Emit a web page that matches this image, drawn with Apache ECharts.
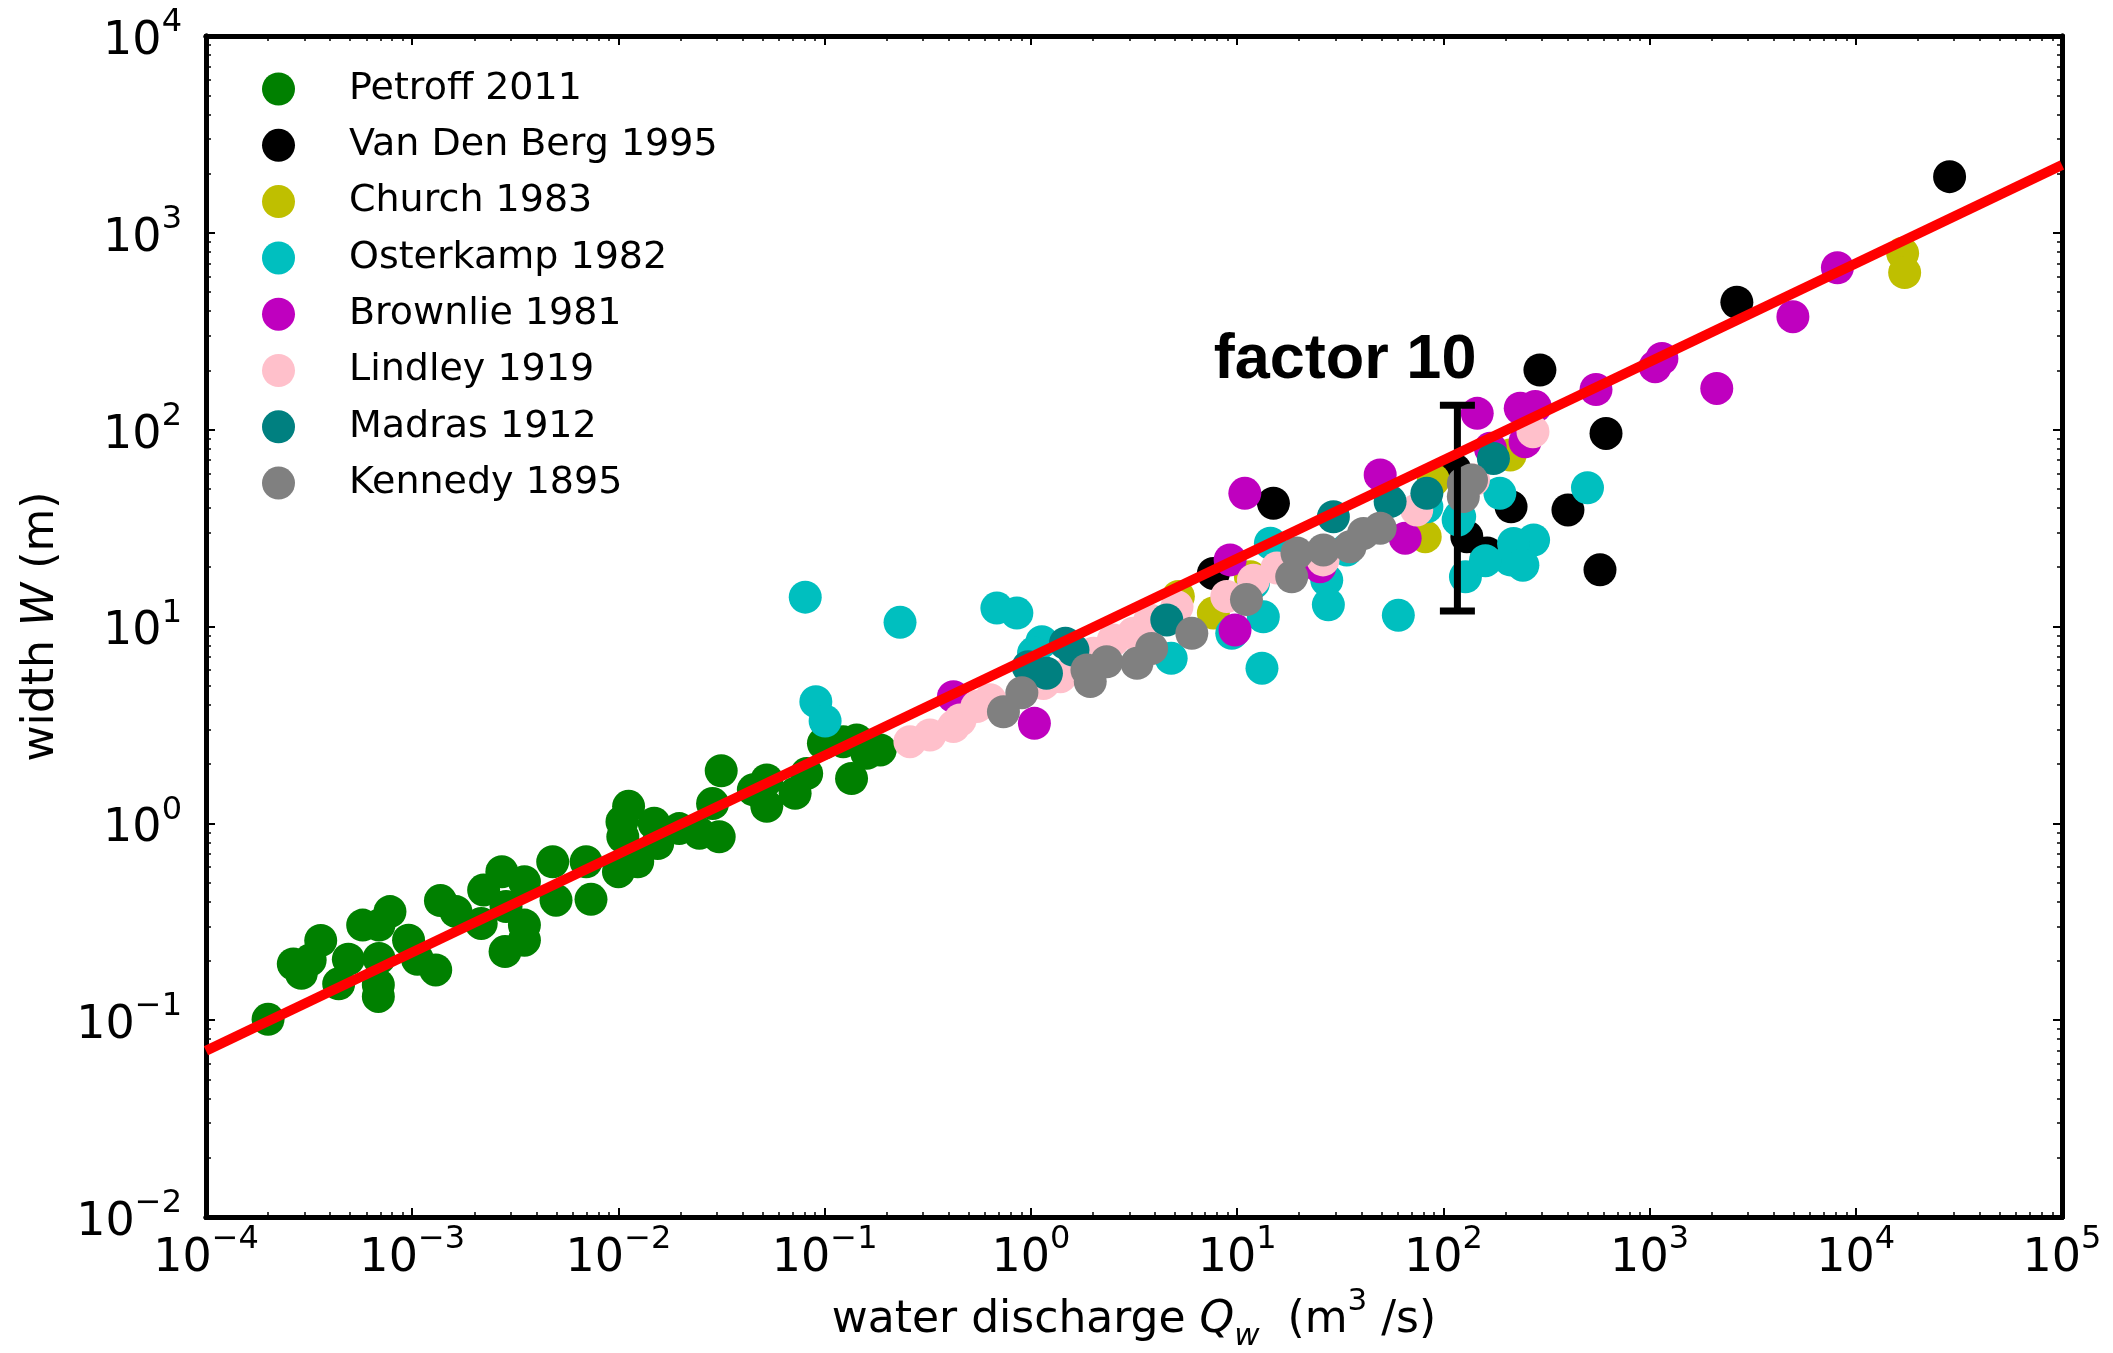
<!DOCTYPE html>
<html>
<head>
<meta charset="utf-8">
<title>Channel width vs water discharge</title>
<script src="https://cdn.jsdelivr.net/npm/echarts@6/dist/echarts.min.js"></script>
<style>
  html, body { margin: 0; padding: 0; background: #fff; }
  #main { width: 2113px; height: 1353px; }
</style>
</head>
<body>
<div id="main"></div>
<script>
// data: [discharge Q (m3/s), width W (m)]
var petroff = [
  [2.0e-4, 0.101], [2.65e-4, 0.193], [2.9e-4, 0.173], [3.2e-4, 0.202], [3.6e-4, 0.254],
  [4.4e-4, 0.153], [4.9e-4, 0.204], [5.75e-4, 0.304], [6.9e-4, 0.304], [7.8e-4, 0.356],
  [6.9e-4, 0.206], [6.85e-4, 0.151], [6.85e-4, 0.132], [9.6e-4, 0.255], [1.06e-3, 0.204],
  [1.3e-3, 0.18], [1.37e-3, 0.405], [1.63e-3, 0.356], [2.16e-3, 0.31], [2.22e-3, 0.458],
  [2.72e-3, 0.568], [3.5e-3, 0.505], [3.5e-3, 0.304], [3.5e-3, 0.255], [2.82e-3, 0.223],
  [2.85e-3, 0.378], [4.8e-3, 0.638], [4.98e-3, 0.407], [6.97e-3, 0.638], [7.36e-3, 0.411],
  [0.0112, 1.22], [0.0104, 1.02], [0.0100, 0.568], [0.0124, 0.638], [0.0149, 1.0],
  [0.0155, 0.79], [0.0197, 0.94], [0.0247, 0.89], [0.0315, 1.85], [0.0286, 1.26],
  [0.0308, 0.855], [0.0105, 0.855], [0.0524, 1.66], [0.0451, 1.48], [0.0524, 1.22],
  [0.0719, 1.42], [0.0818, 1.79], [0.0986, 2.55], [0.123, 2.6], [0.143, 2.65],
  [0.16, 2.27], [0.186, 2.36], [0.135, 1.69]
];
var vanDenBerg = [
  [28500, 1930], [2650, 444], [294, 201], [615, 95.7], [575, 19.4], [402, 39.1],
  [213, 40.6], [130, 28.6], [163, 23.6], [114, 62.4], [15.0, 42.3], [7.67, 18.6]
];
var church = [
  [16870, 787], [17260, 628], [211, 74.3], [81.7, 28.6], [89.5, 55.5],
  [11.6, 17.9], [5.19, 14.2], [7.67, 11.7]
];
var osterkamp = [
  [0.0805, 14.1], [0.232, 10.5], [0.684, 12.4], [0.855, 11.7], [0.0906, 4.15],
  [0.1005, 3.31], [1.13, 8.37], [1.03, 7.33], [4.79, 6.89], [13.2, 6.14],
  [9.42, 9.23], [13.4, 11.2], [12.0, 16.6], [14.5, 26.5], [27.2, 17.2],
  [27.7, 12.9], [60.5, 11.4], [34.0, 24.5], [128, 17.9], [188, 47.5],
  [211, 21.8], [120, 36.1], [83.2, 40.6], [500, 50.7], [274, 27.5],
  [219, 26.4], [243, 20.5], [160, 21.6], [118, 34.8]
];
var brownlie = [
  [0.421, 4.4], [1.04, 3.22], [9.77, 9.59], [9.25, 21.8], [10.9, 47.5],
  [25.2, 20.1], [49.4, 58.9], [65.3, 28.1], [146, 121], [236, 128.5],
  [279, 131], [249, 86.9], [169, 80.4], [550, 160], [1064, 209],
  [1148, 230], [2118, 162], [4955, 375], [8147, 665]
];
var lindley = [
  [0.259, 2.6], [0.324, 2.81], [0.421, 3.1], [0.454, 3.35], [0.547, 3.92],
  [0.634, 4.24], [1.15, 5.14], [1.39, 5.56], [2.01, 7.31], [2.51, 8.53],
  [3.14, 9.23], [3.78, 10.8], [5.11, 12.6], [8.91, 14.2], [12.0, 17.2],
  [15.6, 19.8], [26.1, 21.8], [74.3, 39.1], [140, 55.5], [272, 97.7]
];
var madras = [
  [1.47, 8.22], [1.6, 7.6], [1.19, 5.78], [0.97, 6.25], [4.56, 10.8],
  [29.3, 36.1], [55.2, 43.1], [83.2, 47.5], [175, 71.4]
];
var kennedy = [
  [0.736, 3.69], [0.904, 4.61], [1.87, 6.01], [1.94, 5.25], [2.33, 6.62],
  [3.27, 6.5], [3.85, 7.74], [6.03, 9.23], [11.1, 13.7], [18.4, 17.9],
  [19.5, 23.6], [26.2, 24.5], [35.3, 25.4], [41.0, 29.7], [49.4, 31.6],
  [125, 45.7], [125, 53.3], [137, 55.5]
];

// fitted line W ~ Q^0.5, end points at the plot edges
var fitLine = [[1e-4, 0.07], [1e5, 2210]];
// "factor 10" bar and its label
var errBar = [[117, 12], [117, 133]];
var annotPos = [33.4, 223];
var annotText = 'factor 10';

var xTicks = [1e-4, 1e-3, 1e-2, 1e-1, 1e0, 1e1, 1e2, 1e3, 1e4, 1e5];
var yTicks = [1e-2, 1e-1, 1e0, 1e1, 1e2, 1e3, 1e4];

var seriesNames = ['Petroff 2011', 'Van Den Berg 1995', 'Church 1983', 'Osterkamp 1982',
                   'Brownlie 1981', 'Lindley 1919', 'Madras 1912', 'Kennedy 1895'];
var seriesData = [petroff, vanDenBerg, church, osterkamp, brownlie, lindley, madras, kennedy];
var seriesColors = ['#008000', '#000000', '#bfbf00', '#00bfbf', '#bf00bf', '#ffc0cb', '#008080', '#808080'];

function minorTicks(decades) {
    var out = [];
    for (var i = 0; i < decades.length - 1; i++) {
        for (var k = 2; k <= 9; k++) {
            out.push(Number((k * decades[i]).toPrecision(3)));
        }
    }
    return out;
}

function powLabel(v) {
    var e = Math.round(Math.log10(v));
    return '{b|10}{s|' + (e < 0 ? '\u2212' + (-e) : e) + '}';
}

var font = 'DejaVu Sans';
var labelRich = {
    b: { fontSize: 46, fontFamily: font, color: '#000', lineHeight: 46, verticalAlign: 'bottom' },
    s: { fontSize: 32, fontFamily: font, color: '#000', lineHeight: 32, verticalAlign: 'bottom', padding: [0, 0, 26, 0] }
};

function logAxis(extra) {
    var base = {
        type: 'log',
        logBase: 10,
        axisLine: { show: true, lineStyle: { color: '#000', width: 5 } },
        splitLine: { show: false },
        minorTick: { show: false },
        axisTick: { show: true, inside: true, length: 9, lineStyle: { color: '#000', width: 2 } },
        axisLabel: { show: false }
    };
    return Object.assign(base, extra);
}

var xMinor = minorTicks(xTicks);
var yMinor = minorTicks(yTicks);

var myChart = echarts.init(document.getElementById('main'));

var series = [];
for (var i = 0; i < seriesNames.length; i++) {
    series.push({
        name: seriesNames[i],
        type: 'scatter',
        data: seriesData[i],
        symbol: 'circle',
        symbolSize: 33,
        itemStyle: { color: seriesColors[i], opacity: 1 }
    });
}
series.push({
    name: 'bar',
    type: 'line',
    data: errBar,
    symbol: 'rect',
    symbolSize: [35, 7],
    itemStyle: { color: '#000' },
    lineStyle: { color: '#000', width: 7 },
    silent: true
});
series.push({
    name: 'fit',
    type: 'line',
    data: fitLine,
    showSymbol: false,
    symbol: 'none',
    lineStyle: { color: '#ff0000', width: 10 },
    silent: true
});
series.push({
    name: 'annot',
    type: 'scatter',
    data: [annotPos],
    symbolSize: 0,
    silent: true,
    itemStyle: { opacity: 1 },
    label: {
        show: true,
        position: 'inside',
        formatter: annotText,
        fontFamily: 'Liberation Sans',
        fontWeight: 'bold',
        fontSize: 63,
        color: '#000',
        opacity: 1
    }
});

var option = {
    animation: false,
    backgroundColor: '#fff',
    grid: { left: 206, right: 51, top: 36, bottom: 136, outerBoundsMode: 'none' },
    legend: {
        data: seriesNames.map(function (n) { return { name: n, icon: 'circle' }; }),
        orient: 'vertical',
        left: 257,
        top: 65,
        itemWidth: 33,
        itemHeight: 33,
        itemGap: 18.3,
        selectedMode: false,
        textStyle: { fontSize: 38, fontFamily: font, color: '#000', padding: [0, 0, 0, 49] }
    },
    xAxis: [
        logAxis({
            position: 'bottom', min: 1e-4, max: 1e5,
            axisTick: { show: true, inside: true, length: 9, customValues: xTicks, lineStyle: { color: '#000', width: 2 } },
            axisLabel: { show: true, customValues: xTicks, margin: 19, formatter: powLabel, rich: labelRich },
            name: '{n|water discharge }{i|Q}{sub|w}{n|  (m}{sup|3}{n| /s)}',
            nameLocation: 'middle',
            nameGap: 83,
            nameTextStyle: {
                rich: {
                    n: { fontSize: 44, fontFamily: font, color: '#000', lineHeight: 44, verticalAlign: 'bottom', padding: [0, 0, 10, 0] },
                    i: { fontSize: 44, fontFamily: font, fontStyle: 'italic', color: '#000', lineHeight: 44, verticalAlign: 'bottom', padding: [0, 0, 10, 0] },
                    sub: { fontSize: 31, fontFamily: font, fontStyle: 'italic', color: '#000', lineHeight: 31, verticalAlign: 'bottom' },
                    sup: { fontSize: 31, fontFamily: font, color: '#000', lineHeight: 31, verticalAlign: 'bottom', padding: [0, 0, 35, 0] }
                }
            }
        }),
        logAxis({
            position: 'top', min: 1e-4, max: 1e5,
            axisTick: { show: true, inside: true, length: 9, customValues: xTicks, lineStyle: { color: '#000', width: 2 } }
        }),
        logAxis({
            position: 'bottom', min: 1e-4, max: 1e5,
            axisTick: { show: true, inside: true, length: 5, customValues: xMinor, lineStyle: { color: '#000', width: 1.5 } }
        }),
        logAxis({
            position: 'top', min: 1e-4, max: 1e5,
            axisTick: { show: true, inside: true, length: 5, customValues: xMinor, lineStyle: { color: '#000', width: 1.5 } }
        })
    ],
    yAxis: [
        logAxis({
            position: 'left', min: 1e-2, max: 1e4,
            axisTick: { show: true, inside: true, length: 9, customValues: yTicks, lineStyle: { color: '#000', width: 2 } },
            axisLabel: { show: true, customValues: yTicks, margin: 24, formatter: powLabel, rich: labelRich, padding: [12, 0, 0, 0] },
            name: '{n|width }{i|W}{n| (m)}',
            nameLocation: 'middle',
            nameGap: 142,
            nameTextStyle: {
                rich: {
                    n: { fontSize: 44, fontFamily: font, color: '#000' },
                    i: { fontSize: 44, fontFamily: font, fontStyle: 'italic', color: '#000' }
                }
            }
        }),
        logAxis({
            position: 'right', min: 1e-2, max: 1e4,
            axisTick: { show: true, inside: true, length: 9, customValues: yTicks, lineStyle: { color: '#000', width: 2 } }
        }),
        logAxis({
            position: 'left', min: 1e-2, max: 1e4,
            axisTick: { show: true, inside: true, length: 5, customValues: yMinor, lineStyle: { color: '#000', width: 1.5 } }
        }),
        logAxis({
            position: 'right', min: 1e-2, max: 1e4,
            axisTick: { show: true, inside: true, length: 5, customValues: yMinor, lineStyle: { color: '#000', width: 1.5 } }
        })
    ],
    series: series
};
myChart.setOption(option);
</script>
</body>
</html>
